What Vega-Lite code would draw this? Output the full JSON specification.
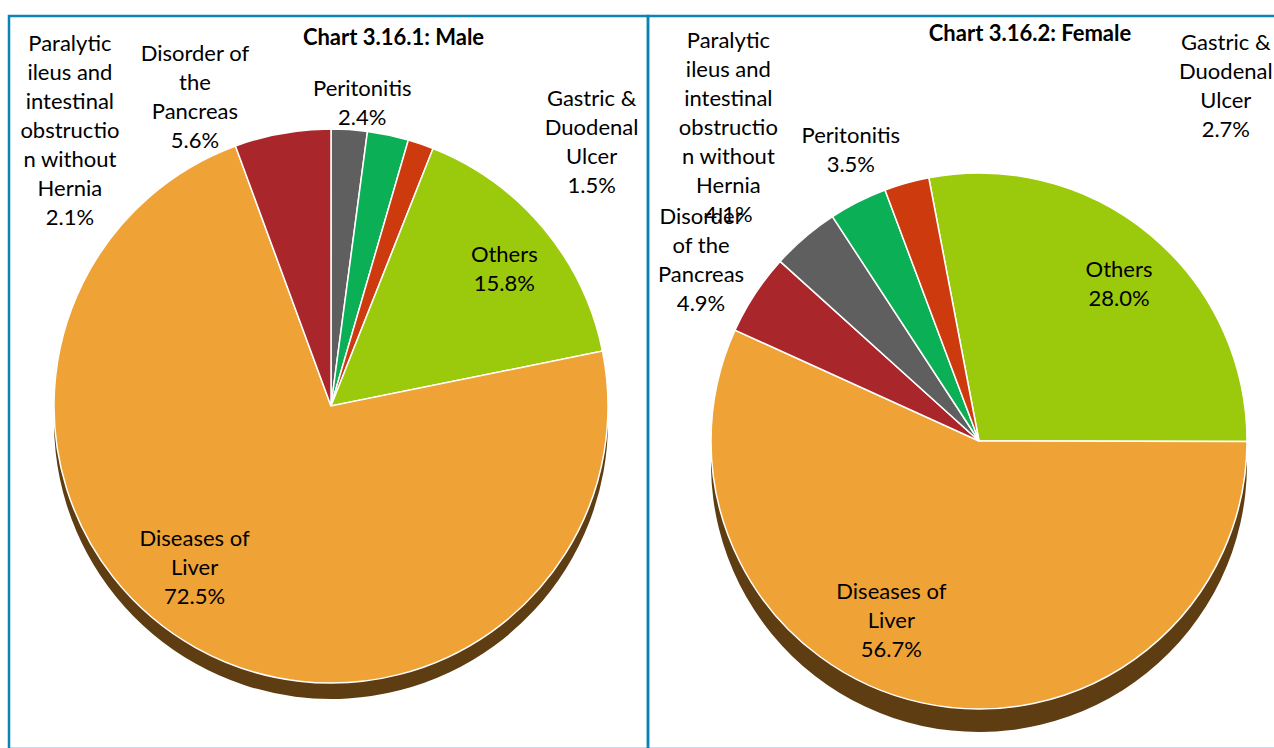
{
  "$schema": "https://vega.github.io/schema/vega-lite/v6.json",
  "padding": {"left": 7, "top": 14, "right": 0, "bottom": 0},
  "background": "white",
  "spacing": 0,
  "bounds": "flush",
  "config": {
    "view": {"stroke": "#0A84B3", "strokeWidth": 2.5},
    "concat": {"spacing": 0},
    "font": "Lato",
    "text": {"lineBreak": "|", "lineHeight": 29, "fontSize": 22, "font": "Lato", "color": "#000000", "align": "center", "baseline": "middle"}
  },
  "datasets": {
    "male": [
      {"cause": "Paralytic ileus and intestinal obstruction without Hernia", "label": "Paralytic|ileus and|intestinal|obstructio|n without|Hernia", "pct": 2.1, "rank": 1},
      {"cause": "Peritonitis", "label": "Peritonitis", "pct": 2.4, "rank": 2},
      {"cause": "Gastric & Duodenal Ulcer", "label": "Gastric &|Duodenal|Ulcer", "pct": 1.5, "rank": 3},
      {"cause": "Others", "label": "Others", "pct": 15.8, "rank": 4},
      {"cause": "Diseases of Liver", "label": "Diseases of|Liver", "pct": 72.5, "rank": 5},
      {"cause": "Disorder of the Pancreas", "label": "Disorder of|the|Pancreas", "pct": 5.6, "rank": 6}
    ],
    "female": [
      {"cause": "Others", "label": "Others", "pct": 28.0, "rank": 1},
      {"cause": "Diseases of Liver", "label": "Diseases of|Liver", "pct": 56.7, "rank": 2},
      {"cause": "Disorder of the Pancreas", "label": "Disorder|of the|Pancreas", "pct": 4.9, "rank": 3},
      {"cause": "Paralytic ileus and intestinal obstruction without Hernia", "label": "Paralytic|ileus and|intestinal|obstructio|n without|Hernia", "pct": 4.1, "rank": 4},
      {"cause": "Peritonitis", "label": "Peritonitis", "pct": 3.5, "rank": 5},
      {"cause": "Gastric & Duodenal Ulcer", "label": "Gastric &|Duodenal|Ulcer", "pct": 2.7, "rank": 6}
    ]
  },
  "hconcat": [
    {
      "width": 639,
      "height": 733,
      "view": {"stroke": "#0A84B3", "strokeWidth": 2.5},
      "data": {"name": "male"},
      "title": {"text": "Chart 3.16.1: Male", "font": "Lato", "fontSize": 22, "fontWeight": "bold", "color": "#000000", "anchor": "middle", "dx": 65, "baseline": "top", "offset": -34},
      "transform": [
        {"calculate": "datum.label + '|' + format(datum.pct, '.1f') + '%'", "as": "lbl"},
        {"stack": "pct", "groupby": [], "sort": [{"field": "rank", "order": "ascending"}], "as": ["s0", "s1"]},
        {"calculate": "(datum.s0 + datum.s1) / 2", "as": "mid"}
      ],
      "layer": [
        {"mark": {"type": "arc", "outerRadius": 277, "xOffset": 2.5, "yOffset": 39.5, "color": "#5E3D12"},
         "encoding": {"theta": {"field": "s0", "type": "quantitative", "scale": {"domain": [0, 99.9], "range": [0, 6.2832]}}, "theta2": {"field": "s1"}}},
        {"mark": {"type": "arc", "outerRadius": 277, "xOffset": 2.5, "yOffset": 23.5, "stroke": "white", "strokeWidth": 1.5},
         "encoding": {"theta": {"field": "s0", "type": "quantitative"}, "theta2": {"field": "s1"},
           "color": {"field": "cause", "type": "nominal", "legend": null,
           "scale": {"domain": ["Paralytic ileus and intestinal obstruction without Hernia", "Peritonitis", "Gastric & Duodenal Ulcer", "Others", "Diseases of Liver", "Disorder of the Pancreas"],
                     "range": ["#5F5F5F", "#0BAF56", "#CC3A0E", "#9BC90B", "#EFA337", "#A9262B"]}}}},
        {"transform": [{"filter": "datum.rank === 1"}], "mark": {"type": "text", "radius": 256, "dx": -278, "dy": -107, "xOffset": 2.5, "yOffset": 23.5},
         "encoding": {"theta": {"field": "mid", "type": "quantitative", "stack": null}, "text": {"field": "lbl"}}},
        {"transform": [{"filter": "datum.rank === 2"}], "mark": {"type": "text", "radius": 302, "dx": -31, "dy": -21.5, "xOffset": 2.5, "yOffset": 23.5},
         "encoding": {"theta": {"field": "mid", "type": "quantitative", "stack": null}, "text": {"field": "lbl"}}},
        {"transform": [{"filter": "datum.rank === 3"}], "mark": {"type": "text", "radius": 335, "dx": 152, "dy": 9.5, "xOffset": 2.5, "yOffset": 23.5},
         "encoding": {"theta": {"field": "mid", "type": "quantitative", "stack": null}, "text": {"field": "lbl"}}},
        {"transform": [{"filter": "datum.rank === 4"}], "mark": {"type": "text", "radius": 222, "dx": 3, "dy": -8.5, "xOffset": 2.5, "yOffset": 23.5},
         "encoding": {"theta": {"field": "mid", "type": "quantitative", "stack": null}, "text": {"field": "lbl"}}},
        {"transform": [{"filter": "datum.rank === 5"}], "mark": {"type": "text", "radius": 210, "dx": -34, "dy": -50, "xOffset": 2.5, "yOffset": 23.5},
         "encoding": {"theta": {"field": "mid", "type": "quantitative", "stack": null}, "text": {"field": "lbl"}}},
        {"transform": [{"filter": "datum.rank === 6"}], "mark": {"type": "text", "radius": 326, "dx": -79, "dy": -31.5, "xOffset": 2.5, "yOffset": 23.5},
         "encoding": {"theta": {"field": "mid", "type": "quantitative", "stack": null}, "text": {"field": "lbl"}}}
      ]
    },
    {
      "width": 628,
      "height": 733,
      "view": {"stroke": "#0A84B3", "strokeWidth": 2.5},
      "data": {"name": "female"},
      "title": {"text": "Chart 3.16.2: Female", "font": "Lato", "fontSize": 22, "fontWeight": "bold", "color": "#000000", "anchor": "middle", "dx": 68, "baseline": "top", "offset": -30},
      "transform": [
        {"calculate": "datum.label + '|' + format(datum.pct, '.1f') + '%'", "as": "lbl"},
        {"stack": "pct", "groupby": [], "sort": [{"field": "rank", "order": "ascending"}], "as": ["s0", "s1"]},
        {"calculate": "(datum.s0 + datum.s1) / 2", "as": "mid"}
      ],
      "layer": [
        {"mark": {"type": "arc", "outerRadius": 268, "xOffset": 17, "yOffset": 81.5, "color": "#5E3D12"},
         "encoding": {"theta": {"field": "s0", "type": "quantitative", "scale": {"domain": [0, 99.9], "range": [-0.1885, 6.0947]}}, "theta2": {"field": "s1"}}},
        {"mark": {"type": "arc", "outerRadius": 268, "xOffset": 17, "yOffset": 58.5, "stroke": "white", "strokeWidth": 1.5},
         "encoding": {"theta": {"field": "s0", "type": "quantitative"}, "theta2": {"field": "s1"},
           "color": {"field": "cause", "type": "nominal", "legend": null,
           "scale": {"domain": ["Paralytic ileus and intestinal obstruction without Hernia", "Peritonitis", "Gastric & Duodenal Ulcer", "Others", "Diseases of Liver", "Disorder of the Pancreas"],
                     "range": ["#5F5F5F", "#0BAF56", "#CC3A0E", "#9BC90B", "#EFA337", "#A9262B"]}}}},
        {"transform": [{"filter": "datum.rank === 1"}], "mark": {"type": "text", "radius": 210, "dx": 6, "dy": -9.5, "xOffset": 17, "yOffset": 58.5},
         "encoding": {"theta": {"field": "mid", "type": "quantitative", "stack": null}, "text": {"field": "lbl"}}},
        {"transform": [{"filter": "datum.rank === 2"}], "mark": {"type": "text", "radius": 196, "dx": -46, "dy": -41, "xOffset": 17, "yOffset": 58.5},
         "encoding": {"theta": {"field": "mid", "type": "quantitative", "stack": null}, "text": {"field": "lbl"}}},
        {"transform": [{"filter": "datum.rank === 3"}], "mark": {"type": "text", "radius": 330, "dx": -2, "dy": -43.5, "xOffset": 17, "yOffset": 58.5},
         "encoding": {"theta": {"field": "mid", "type": "quantitative", "stack": null}, "text": {"field": "lbl"}}},
        {"transform": [{"filter": "datum.rank === 4"}], "mark": {"type": "text", "radius": 398, "dx": 8, "dy": -97, "xOffset": 17, "yOffset": 58.5},
         "encoding": {"theta": {"field": "mid", "type": "quantitative", "stack": null}, "text": {"field": "lbl"}}},
        {"transform": [{"filter": "datum.rank === 5"}], "mark": {"type": "text", "radius": 315, "dx": 14, "dy": -23.5, "xOffset": 17, "yOffset": 58.5},
         "encoding": {"theta": {"field": "mid", "type": "quantitative", "stack": null}, "text": {"field": "lbl"}}},
        {"transform": [{"filter": "datum.rank === 6"}], "mark": {"type": "text", "radius": 271, "dx": 320, "dy": -137.5, "xOffset": 17, "yOffset": 58.5},
         "encoding": {"theta": {"field": "mid", "type": "quantitative", "stack": null}, "text": {"field": "lbl"}}}
      ]
    }
  ]
}
